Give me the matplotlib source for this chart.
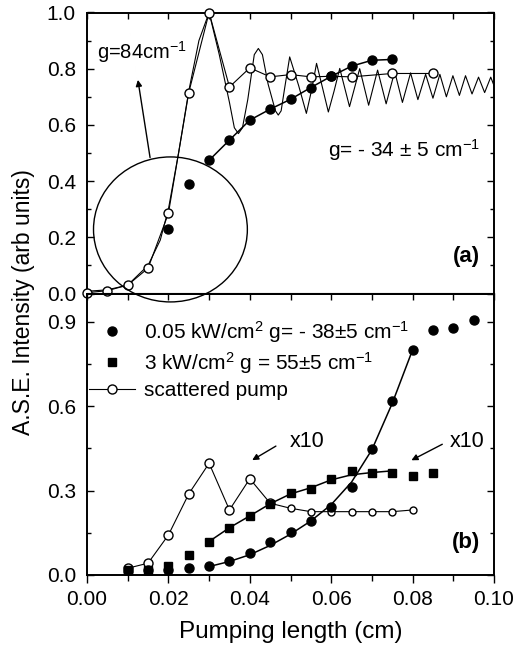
"""Recreate the two-panel ASE intensity vs pumping length figure."""

import matplotlib

matplotlib.use("Agg")
import matplotlib.pyplot as plt
from matplotlib.lines import Line2D
from matplotlib.patches import Ellipse
from matplotlib.ticker import FormatStrFormatter, MultipleLocator

plt.rcParams["font.family"] = ["Liberation Sans", "DejaVu Sans"]
plt.rcParams["mathtext.fontset"] = "custom"
plt.rcParams["mathtext.rm"] = "Liberation Sans"
plt.rcParams["mathtext.it"] = "Liberation Sans:italic"

# ---- panel (a) data ----
top_open_x = [0.0, 0.005, 0.01, 0.015, 0.02, 0.025, 0.03, 0.035, 0.04, 0.045,
              0.05, 0.055, 0.06, 0.065, 0.075, 0.085]
top_open_y = [0.003, 0.010, 0.030, 0.090, 0.285, 0.715, 1.0, 0.735, 0.803, 0.771,
              0.779, 0.771, 0.773, 0.771, 0.783, 0.783]

top_fill_x = [0.02, 0.025, 0.03, 0.035, 0.04, 0.045, 0.05, 0.055, 0.06, 0.065,
              0.07, 0.075]
top_fill_y = [0.231, 0.391, 0.474, 0.546, 0.617, 0.656, 0.691, 0.733, 0.773, 0.809,
              0.830, 0.833]

# thin theoretical curve (rise with g=84 cm-1, then oscillation)
osc_x = [0.000, 0.005, 0.010, 0.015, 0.018, 0.020, 0.0225, 0.025, 0.0275, 0.030,
         0.0325, 0.035, 0.0362, 0.0372, 0.0382, 0.0395, 0.0411, 0.0421, 0.0431,
         0.0445, 0.0463, 0.047, 0.0477, 0.0485, 0.0498, 0.052, 0.0539, 0.0552,
         0.0564, 0.0579, 0.0593, 0.0607, 0.0621, 0.0645, 0.067, 0.0692, 0.0714,
         0.0735, 0.0756, 0.0775, 0.0795, 0.0813, 0.0832, 0.085, 0.0867, 0.0883,
         0.0899, 0.0915, 0.093, 0.0946, 0.0962, 0.0977, 0.0992, 0.1]
osc_y = [0.008, 0.013, 0.030, 0.100, 0.190, 0.300, 0.500, 0.720, 0.900, 1.000,
         0.850, 0.680, 0.590, 0.569, 0.590, 0.690, 0.850, 0.872, 0.850,
         0.745, 0.650, 0.635, 0.650, 0.725, 0.842, 0.740, 0.641, 0.725,
         0.819, 0.730, 0.646, 0.720, 0.801, 0.665, 0.800, 0.670, 0.795,
         0.675, 0.790, 0.680, 0.785, 0.690, 0.780, 0.695, 0.780, 0.700,
         0.775, 0.705, 0.775, 0.710, 0.770, 0.715, 0.770, 0.740]

# ---- panel (b) data ----
b_open_x = [0.01, 0.015, 0.02, 0.025, 0.03, 0.035, 0.04, 0.045, 0.05, 0.055,
            0.06, 0.065, 0.07, 0.075, 0.08]
b_open_y = [0.024, 0.042, 0.142, 0.288, 0.397, 0.231, 0.342, 0.255, 0.237, 0.225,
            0.225, 0.225, 0.225, 0.225, 0.231]

b_sq_x = [0.01, 0.015, 0.02, 0.025, 0.03, 0.035, 0.04, 0.045, 0.05, 0.055,
          0.06, 0.065, 0.07, 0.075, 0.08, 0.085]
b_sq_y = [0.018, 0.018, 0.032, 0.071, 0.119, 0.168, 0.210, 0.253, 0.291, 0.306,
          0.340, 0.369, 0.362, 0.364, 0.353, 0.362]
sq_fit_x = [0.03, 0.035, 0.04, 0.045, 0.05, 0.055, 0.06, 0.065, 0.07, 0.075]
sq_fit_y = [0.119, 0.168, 0.210, 0.253, 0.288, 0.310, 0.338, 0.356, 0.364, 0.370]

b_fill_x = [0.01, 0.015, 0.02, 0.025, 0.03, 0.035, 0.04, 0.045, 0.05, 0.055,
            0.06, 0.065, 0.07, 0.075, 0.08, 0.085, 0.09, 0.095]
b_fill_y = [0.014, 0.017, 0.018, 0.024, 0.033, 0.050, 0.077, 0.119, 0.151, 0.193,
            0.241, 0.312, 0.447, 0.619, 0.800, 0.872, 0.878, 0.905]
fill_fit_x = [0.03, 0.035, 0.04, 0.045, 0.05, 0.055, 0.06, 0.065, 0.07, 0.075, 0.08]
fill_fit_y = [0.030, 0.048, 0.072, 0.105, 0.145, 0.192, 0.250, 0.330, 0.445, 0.610, 0.800]

legend_labels = [
    r"0.05 kW/cm$^{\mathregular{2}}$ g= - 38$\pm$5 cm$^{\mathregular{-1}}$",
    r"3 kW/cm$^{\mathregular{2}}$ g = 55$\pm$5 cm$^{\mathregular{-1}}$",
    "scattered pump",
]


def _style_axes(ax, ymajor, yminor):
    ax.set_xlim(0, 0.10)
    ax.set_ylim(0, 1.0)
    ax.xaxis.set_major_locator(MultipleLocator(0.02))
    ax.xaxis.set_minor_locator(MultipleLocator(0.01))
    ax.yaxis.set_major_locator(MultipleLocator(ymajor))
    ax.yaxis.set_minor_locator(MultipleLocator(yminor))
    ax.yaxis.set_major_formatter(FormatStrFormatter("%.1f"))
    ax.xaxis.set_major_formatter(FormatStrFormatter("%.2f"))
    ax.tick_params(axis="y", which="both", direction="in", left=True, right=True,
                   labelsize=15, pad=8)
    ax.tick_params(axis="y", which="major", length=5, width=1)
    ax.tick_params(axis="y", which="minor", length=3, width=1)
    for sp in ax.spines.values():
        sp.set_linewidth(1.4)
    ax.patch.set_facecolor("none")


fig = plt.figure(figsize=(5.15, 6.49), dpi=100)
L, W = 87 / 515, 407 / 515
ax1 = fig.add_axes([L, 1 - 293.5 / 649, W, 281 / 649])
ax2 = fig.add_axes([L, 1 - 575 / 649, W, 281.5 / 649])

# ---- panel (a) ----
_style_axes(ax1, 0.2, 0.1)
ax1.tick_params(axis="x", which="both", direction="in", top=True, bottom=False,
                labelbottom=False, length=4, width=1)

ax1.plot(osc_x, osc_y, color="k", lw=0.8)
ax1.plot(top_open_x, top_open_y, color="k", lw=0.8, marker="o", ms=6.5,
         mfc="white", mec="k", mew=1, clip_on=False, zorder=3)
ax1.plot(top_fill_x[2:], top_fill_y[2:], color="k", lw=1.1)
ax1.plot(top_fill_x, top_fill_y, ls="none", marker="o", ms=6.5, color="k", zorder=4)

ax1.add_patch(Ellipse((0.0205, 0.228), 0.0378, 0.516, fill=False, lw=1,
                      color="k", clip_on=False, zorder=5))
ax1.annotate("", xy=(0.0124, 0.77), xytext=(0.0156, 0.474),
             arrowprops=dict(arrowstyle="-|>", color="k", lw=1, mutation_scale=9))
ax1.text(0.0025, 0.86, r"g=84cm$^{\mathregular{-1}}$", fontsize=14.5,
         ha="left", va="center")
ax1.text(0.0965, 0.51, r"g= - 34 $\pm$ 5 cm$^{\mathregular{-1}}$", fontsize=15,
         ha="right", va="center")
ax1.text(0.0966, 0.13, "(a)", fontsize=16, fontweight="bold", ha="right", va="center")

# ---- panel (b) ----
_style_axes(ax2, 0.3, 0.15)
ax2.tick_params(axis="x", which="both", direction="out", top=False, bottom=True,
                labelsize=15, pad=5, width=1)
ax2.tick_params(axis="x", which="major", length=6)
ax2.tick_params(axis="x", which="minor", length=4)
sec = ax2.secondary_xaxis("top")
sec.xaxis.set_major_locator(MultipleLocator(0.02))
sec.xaxis.set_minor_locator(MultipleLocator(0.01))
sec.tick_params(axis="x", which="both", direction="in", labeltop=False,
                length=5, width=1)

ax2.plot(b_open_x, b_open_y, color="k", lw=0.8)
ax2.plot(b_open_x[:8], b_open_y[:8], ls="none", marker="o", ms=6.5, mfc="white",
         mec="k", mew=1, zorder=3)
ax2.plot(b_open_x[8:], b_open_y[8:], ls="none", marker="o", ms=5, mfc="white",
         mec="k", mew=1, zorder=3)
ax2.plot(sq_fit_x, sq_fit_y, color="k", lw=1.1)
ax2.plot(b_sq_x, b_sq_y, ls="none", marker="s", ms=6, color="k", zorder=4)
ax2.plot(fill_fit_x, fill_fit_y, color="k", lw=1.1)
ax2.plot(b_fill_x, b_fill_y, ls="none", marker="o", ms=6.5, color="k", zorder=4)

handles = [
    Line2D([], [], ls="none", marker="o", ms=6.5, color="k"),
    Line2D([], [], ls="none", marker="s", ms=6, color="k"),
    Line2D([], [], color="k", lw=0.8, marker="o", ms=6.5, mfc="white", mec="k"),
]
ax2.legend(handles, legend_labels, loc="upper left", bbox_to_anchor=(-0.005, 0.925),
           frameon=False, fontsize=15, handlelength=2.2, handletextpad=0.45,
           labelspacing=0.25, borderaxespad=0.0, borderpad=0.2)

ax2.annotate("", xy=(0.040, 0.403), xytext=(0.047, 0.463),
             arrowprops=dict(arrowstyle="-|>", color="k", lw=1, mutation_scale=9))
ax2.annotate("", xy=(0.0791, 0.403), xytext=(0.0879, 0.469),
             arrowprops=dict(arrowstyle="-|>", color="k", lw=1, mutation_scale=9))
ax2.text(0.0498, 0.474, "x10", fontsize=15.5, ha="left", va="center")
ax2.text(0.0891, 0.474, "x10", fontsize=15.5, ha="left", va="center")
ax2.text(0.0966, 0.114, "(b)", fontsize=16, fontweight="bold", ha="right", va="center")

fig.text(290.5 / 515, 1 - 632 / 649, "Pumping length (cm)", fontsize=17.5,
         ha="center", va="center")
fig.text(24 / 515, 1 - 302 / 649, "A.S.E. Intensity (arb units)", fontsize=16.5,
         rotation=90, ha="center", va="center")

fig.savefig("out.png", dpi=100)
